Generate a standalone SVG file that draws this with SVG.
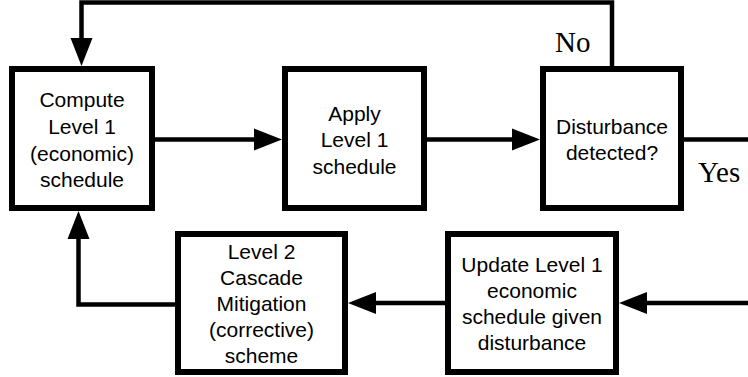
<svg xmlns="http://www.w3.org/2000/svg" width="748" height="377" viewBox="0 0 748 377">
<style>
.box{fill:#fff;stroke:#000;stroke-width:6}
.t{font-family:"Liberation Sans",Arial,Helvetica,sans-serif;font-size:21px;fill:#000;text-anchor:middle}
.lbl{font-family:"Liberation Serif","Times New Roman",serif;font-size:29px;fill:#000}
.ln{fill:none;stroke:#000;stroke-width:4.5}
.ah{fill:#000;stroke:none}
</style>
<rect width="748" height="377" fill="#fff"/>
<g id="connectors">
<path class="ln" d="M155,139.5 H256"/>
<polygon class="ah" points="254,128.5 282,139.5 254,150.5"/>
<path class="ln" d="M427,139.5 H514"/>
<polygon class="ah" points="512,128.5 540,139.5 512,150.5"/>
<path class="ln" d="M684,139.5 H748"/>
<path class="ln" d="M612,66 V2.5 H81.5 V40"/>
<polygon class="ah" points="70.5,38 81.5,66 92.5,38"/>
<path class="ln" d="M748,303 H644"/>
<polygon class="ah" points="647,292 619,303 647,314"/>
<path class="ln" d="M445,303 H374"/>
<polygon class="ah" points="376,292 348,303 376,314"/>
<path class="ln" d="M175,304.5 H78.5 V237"/>
<polygon class="ah" points="67.5,239 78.5,211 89.5,239"/>
<text class="lbl" x="555" y="52">No</text>
<text class="lbl" x="698" y="182">Yes</text>
</g>
<g id="compute">
<rect class="box" x="12" y="69" width="140" height="139"/>
<text class="t" x="82" y="107">Compute</text>
<text class="t" x="82" y="134">Level 1</text>
<text class="t" x="82" y="160.5">(economic)</text>
<text class="t" x="82" y="187">schedule</text>
</g>
<g id="apply">
<rect class="box" x="285" y="69" width="139" height="139"/>
<text class="t" x="354.5" y="120.5">Apply</text>
<text class="t" x="354.5" y="147">Level 1</text>
<text class="t" x="354.5" y="173.5">schedule</text>
</g>
<g id="disturbance">
<rect class="box" x="543" y="69" width="138" height="139"/>
<text class="t" x="612" y="133.5">Disturbance</text>
<text class="t" x="612" y="160">detected?</text>
</g>
<g id="cascade">
<rect class="box" x="178" y="234" width="167" height="138"/>
<text class="t" x="261.5" y="258.5">Level 2</text>
<text class="t" x="261.5" y="284.5">Cascade</text>
<text class="t" x="261.5" y="310.5">Mitigation</text>
<text class="t" x="261.5" y="336.5">(corrective)</text>
<text class="t" x="261.5" y="362.5">scheme</text>
</g>
<g id="update">
<rect class="box" x="448" y="234" width="168" height="138"/>
<text class="t" x="532" y="271.5">Update Level 1</text>
<text class="t" x="532" y="297.5">economic</text>
<text class="t" x="532" y="323.5">schedule given</text>
<text class="t" x="532" y="349.5">disturbance</text>
</g>
</svg>
